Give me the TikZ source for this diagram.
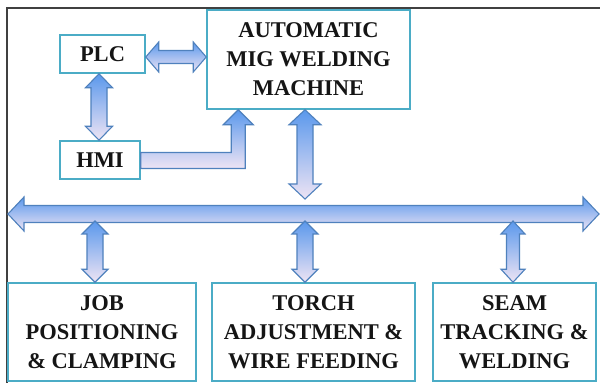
\documentclass[tikz,border=0pt]{standalone}
\usepackage{fontspec}
\setmainfont{Liberation Serif}
\usetikzlibrary{calc}
\definecolor{boxline}{HTML}{4BACC6}
\definecolor{arrline}{HTML}{4F81BD}
\definecolor{arrtop}{HTML}{5A98EC}
\definecolor{arrbot}{HTML}{EEE4F4}
\definecolor{txt}{HTML}{151515}
\definecolor{framec}{HTML}{404040}
\tikzset{
  blk/.style={draw=boxline, line width=1.5pt, fill=white, inner sep=0pt, align=center,
    font=\bfseries\fontsize{22.5}{29}\selectfont, text=txt},
  fat/.style={draw=arrline, line width=1.1pt, top color=arrtop, bottom color=arrbot, line join=miter},
  framel/.style={draw=framec, line width=1.5pt}
}
% vertical double arrow: x from #1, top y from #2, bottom y from #3, half shaft #4, half head #5, head length #6
\newcommand{\vdarr}[6]{%
  \path[fat] let \p1=(#1), \p2=(#2), \p3=(#3) in
  (\x1,\y2) -- (\x1+#5,\y2-#6) -- (\x1+#4,\y2-#6) -- (\x1+#4,\y3+#6) -- (\x1+#5,\y3+#6)
  -- (\x1,\y3) -- (\x1-#5,\y3+#6) -- (\x1-#4,\y3+#6) -- (\x1-#4,\y2-#6) -- (\x1-#5,\y2-#6) -- cycle;}
% horizontal double arrow: y from #1, left x from #2, right x from #3
\newcommand{\hdarr}[6]{%
  \path[fat] let \p1=(#1), \p2=(#2), \p3=(#3) in
  (\x2,\y1) -- (\x2+#6,\y1+#5) -- (\x2+#6,\y1+#4) -- (\x3-#6,\y1+#4) -- (\x3-#6,\y1+#5)
  -- (\x3,\y1) -- (\x3-#6,\y1-#5) -- (\x3-#6,\y1-#4) -- (\x2+#6,\y1-#4) -- (\x2+#6,\y1-#5) -- cycle;}
\begin{document}
\begin{tikzpicture}[x=1pt,y=1pt]
\useasboundingbox (0,0) rectangle (600,383);
\fill[white] (0,0) rectangle (600,383);
\draw[framel] (7,0) -- (7,375) -- (600,375);

\node[blk, minimum width=85pt, minimum height=38pt] (plc) at (102.5,329) {PLC};
\node[blk, minimum width=80pt, minimum height=38pt] (hmi) at (100,223) {HMI};
\node[blk, minimum width=203pt, minimum height=99pt] (machine) at (308.5,323.5) {AUTOMATIC\\MIG WELDING\\MACHINE};
\node[blk, minimum width=188pt, minimum height=98pt] (job) at (102,51) {JOB\\POSITIONING\\\& CLAMPING};
\node[blk, minimum width=203pt, minimum height=98pt] (torch) at (313.5,51) {TORCH\\ADJUSTMENT \&\\WIRE FEEDING};
\node[blk, minimum width=163pt, minimum height=98pt] (seam) at (514.5,51) {SEAM\\TRACKING \&\\WELDING};

\coordinate (busL) at (8,169);
\coordinate (busR) at (599,169);

% PLC <-> machine
\hdarr{$(plc.east)+(0,-3)$}{plc.east}{machine.west}{6.5}{15}{13}
% PLC <-> HMI
\vdarr{$(plc.south)+(-3.5,0)$}{plc.south}{hmi.north}{8}{13.5}{14}
% HMI -> machine (elbow)
\path[fat] let \p1=(hmi.east), \p2=($(machine.south west)+(32,0)$) in
  (\x1,\y1+7.5) -- (\x2-7,\y1+7.5) -- (\x2-7,\y2-15) -- (\x2-15,\y2-15) -- (\x2,\y2)
  -- (\x2+15,\y2-15) -- (\x2+7,\y2-15) -- (\x2+7,\y1-8.5) -- (\x1,\y1-8.5) -- cycle;
% machine <-> bus
\vdarr{$(machine.south)+(-3.5,0)$}{machine.south}{$(busL)+(0,15)$}{8}{16}{15}
% bus
\hdarr{busL}{busL}{busR}{8.5}{17}{16}
% bus <-> bottom boxes
\vdarr{$(job.north)+(-7,0)$}{$(busL)+(0,-7)$}{job.north}{8}{13}{13}
\vdarr{$(torch.north)+(-8.5,0)$}{$(busL)+(0,-7)$}{torch.north}{8}{13}{13}
\vdarr{$(seam.north)+(-1.5,0)$}{$(busL)+(0,-7)$}{seam.north}{6.5}{12}{13}
\end{tikzpicture}
\end{document}
